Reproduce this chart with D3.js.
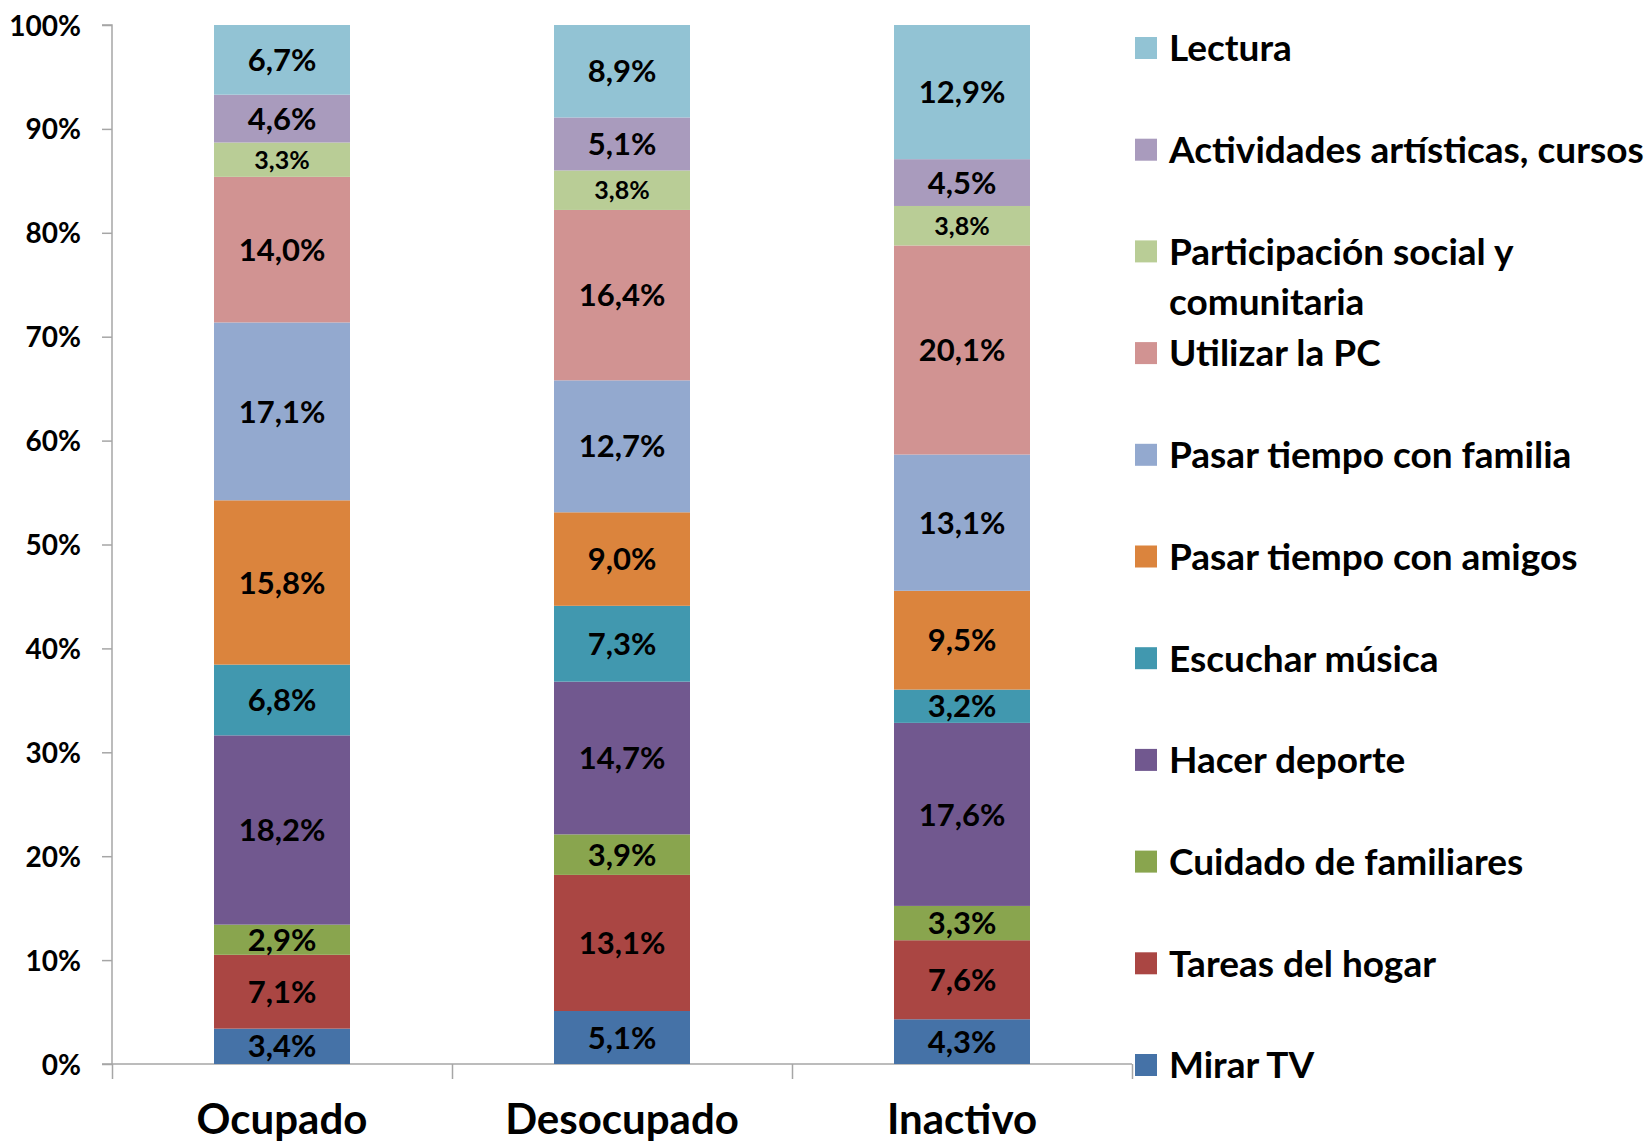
<!DOCTYPE html>
<html>
<head>
<meta charset="utf-8">
<script src="https://cdn.jsdelivr.net/npm/d3@7"></script>
<style>
  body { margin: 0; background: #fff; }
  svg text { font-family: Lato, "Open Sans", sans-serif; font-weight: bold; fill: #000; }
</style>
</head>
<body>
<svg id="chart" width="1649" height="1144"></svg>
<script>
const categories = ["Ocupado", "Desocupado", "Inactivo"];

// series from bottom of the stack to top
const series = ["Mirar TV", "Tareas del hogar", "Cuidado de familiares", "Hacer deporte",
  "Escuchar música", "Pasar tiempo con amigos", "Pasar tiempo con familia", "Utilizar la PC",
  "Participación social y comunitaria", "Actividades artísticas, cursos", "Lectura"];

const colors = ["#4572a7", "#aa4643", "#89a54e", "#71588f", "#4198af", "#db843d",
  "#93a9cf", "#d19392", "#b9cd96", "#a99bbd", "#92c3d4"];

const ocupado    = [3.4, 7.1, 2.9, 18.2, 6.8, 15.8, 17.1, 14.0, 3.3, 4.6, 6.7];
const desocupado = [5.1, 13.1, 3.9, 14.7, 7.3, 9.0, 12.7, 16.4, 3.8, 5.1, 8.9];
const inactivo   = [4.3, 7.6, 3.3, 17.6, 3.2, 9.5, 13.1, 20.1, 3.8, 4.5, 12.9];

const yTicks = [0, 0.1, 0.2, 0.3, 0.4, 0.5, 0.6, 0.7, 0.8, 0.9, 1];

const values = [ocupado, desocupado, inactivo];
const rows = categories.map((c, i) => {
  const r = { cat: c };
  series.forEach((s, j) => r[s] = values[i][j]);
  return r;
});

const plotLeft = 112, plotRight = 1132, plotTop = 25, plotBottom = 1064;
const svg = d3.select("#chart");

const x = d3.scaleBand().domain(categories).range([plotLeft, plotRight])
  .paddingInner(0.6).paddingOuter(0.3);
const y = d3.scaleLinear().domain([0, 1]).range([plotBottom, plotTop]);
const color = d3.scaleOrdinal().domain(series).range(colors);

const stacked = d3.stack().keys(series).offset(d3.stackOffsetExpand)(rows);

const fmt = v => v.toFixed(1).replace(".", ",") + "%";

// axes
const yAxis = svg.append("g")
  .attr("transform", `translate(${plotLeft},0)`)
  .call(d3.axisLeft(y).tickValues(yTicks).tickFormat(d3.format(".0%")).tickSize(10).tickPadding(21));
const xEdges = d3.scaleLinear().domain([0, categories.length]).range([plotLeft, plotRight]);
const xAxis = svg.append("g")
  .attr("transform", `translate(0,${plotBottom})`)
  .call(d3.axisBottom(xEdges).tickValues(d3.range(categories.length + 1)).tickFormat("").tickSize(15));
[yAxis, xAxis].forEach(g => {
  g.selectAll("path, line").attr("stroke", "#a6a6a6").attr("stroke-width", 1.5);
});
yAxis.select(".domain").attr("d", `M-10,${plotTop}H0V${plotBottom}H-10`);
xAxis.select(".domain").attr("d", `M${plotLeft},0H${plotRight}`);
yAxis.selectAll("text").style("font-size", "28px").attr("dy", "0.36em");

// bars
const layer = svg.selectAll(".layer").data(stacked).enter().append("g")
  .attr("fill", d => color(d.key));
layer.selectAll("rect").data(d => d).enter().append("rect")
  .attr("x", d => x(d.data.cat))
  .attr("width", x.bandwidth())
  .attr("y", d => y(d[1]))
  .attr("height", d => y(d[0]) - y(d[1]));

// data labels
stacked.forEach(s => {
  const small = s.key.startsWith("Participación");
  svg.selectAll(null).data(s).enter().append("text")
    .attr("x", d => x(d.data.cat) + x.bandwidth() / 2)
    .attr("y", d => (y(d[0]) + y(d[1])) / 2)
    .attr("dy", "0.36em")
    .attr("text-anchor", "middle")
    .style("font-size", small ? "25px" : "31px")
    .text(d => fmt(d.data[s.key]));
});

// category labels
svg.selectAll(".cat").data(categories).enter().append("text")
  .attr("x", d => x(d) + x.bandwidth() / 2)
  .attr("y", 1134)
  .attr("text-anchor", "middle")
  .style("font-size", "42px")
  .text(d => d);

// legend (top item = last series)
const legendY = d3.scalePoint().domain(series.slice().reverse()).range([48, 1065]);
const legend = svg.selectAll(".legend").data(series).enter().append("g")
  .attr("transform", d => `translate(1135,${legendY(d)})`);
legend.append("rect")
  .attr("x", 0).attr("y", -11).attr("width", 22).attr("height", 22)
  .attr("fill", d => color(d));
legend.append("text")
  .attr("x", 34).attr("y", 0)
  .style("font-size", "37px")
  .each(function (d) {
    const t = d3.select(this);
    const words = d.split(" ");
    let line = [];
    let tspan = t.append("tspan").attr("x", 34).attr("dy", "0.36em");
    words.forEach(w => {
      line.push(w);
      tspan.text(line.join(" "));
      if (tspan.node().getComputedTextLength() > 495 && line.length > 1) {
        line.pop();
        tspan.text(line.join(" "));
        line = [w];
        tspan = t.append("tspan").attr("x", 34).attr("dy", "50px").text(w);
      }
    });
  });
</script>
</body>
</html>
